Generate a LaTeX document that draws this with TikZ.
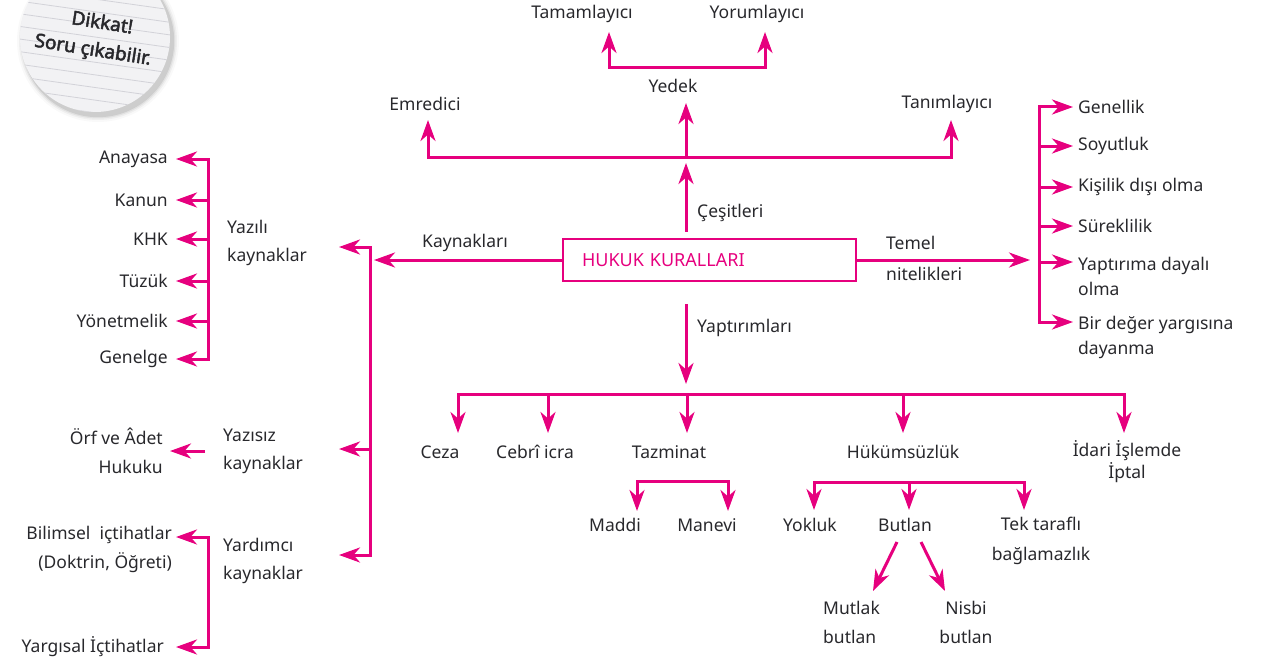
\documentclass[tikz,border=0pt]{standalone}
\usepackage{fontspec}
\setmainfont{Noto Sans}
\newfontfamily\badgefont[AutoFakeBold=2.5]{Noto Sans}
\usetikzlibrary{arrows.meta,calc}
\definecolor{mag}{RGB}{230,0,126}
\definecolor{ink}{RGB}{40,40,44}
\definecolor{badgefill}{RGB}{242,242,244}
\definecolor{badgeline}{RGB}{210,210,216}
\newcommand\fsz{\fontsize{17.5}{28}\selectfont}
\begin{document}
\begin{tikzpicture}[x=1pt,y=-1pt,
  ln/.style={draw=mag,line width=3pt},
  tipst/.tip={Stealth[length=21pt,width=15pt,inset=6.5pt]},
  arr/.style={ln,-tipst},
  arrboth/.style={ln,line join=miter,tipst-tipst},
  lbl/.style={text=ink,inner sep=0pt,font=\fsz},
  two/.style={lbl,font=\fontsize{17.5}{#1}\selectfont},
  mainbox/.style={draw=mag,line width=2.6pt,text=mag,font=\fontsize{18}{22}\selectfont,
    minimum height=42pt,inner xsep=19pt,text width=255pt,align=left},
  badgetxt/.style={text=ink,inner sep=0pt,font=\badgefont\fontsize{19}{28}\selectfont\bfseries,rotate=-9,align=center}
]
\useasboundingbox (0,0) rectangle (1263,666);
\clip (0,0) rectangle (1263,666);

% ---------- badge ----------
\foreach \r/\o in {81/0.025,79/0.04,77.5/0.06,76.2/0.09}{
  \fill[black,opacity=\o] (98,41) circle (\r);
}
\fill[badgefill] (95,37) circle (75);
\begin{scope}
  \clip (95,37) circle (75);
  \begin{scope}[shift={(95,37)},rotate=-8]
    \foreach \k in {-7,...,7}{
      \draw[badgeline,line width=0.8pt] (-100,\k*12.5) -- (100,\k*12.5);
    }
  \end{scope}
\end{scope}
\node[badgetxt] (badge) at (95,37) {\hspace*{10pt}Dikkat!\\Soru çıkabilir.};

% ---------- central box ----------
\node[mainbox] (main) at (709.5,260) {HUKUK KURALLARI};

% ---------- Çeşitleri (top) ----------
\node[lbl] (tam) at (582,14) {Tamamlayıcı};
\node[lbl] (yor) at (757,14) {Yorumlayıcı};
\node[lbl] (yed) at (673,86) {Yedek};
\node[lbl] (emr) at (425,104) {Emredici};
\node[lbl] (tan) at (947,104) {Tanımlayıcı};
\node[lbl,anchor=west] (ces) at (697,213) {Çeşitleri};

\coordinate (cL) at (428,157);
\coordinate (cM) at (686,157);
\coordinate (cR) at (951,157);
\coordinate (emrT) at (428,120);
\coordinate (yedT) at (686,103);
\coordinate (tanT) at (951,120);
\coordinate (cesT) at (686,163);
\draw[arrboth] (emrT) -- (cL) -- (cR) -- (tanT);
\draw[arr] (cM) -- (yedT);
\draw[arr,shorten <=6pt] (main.north -| cM) -- (cesT);

\coordinate (yb1) at (609,68);
\coordinate (yb2) at (765,68);
\coordinate (tamT) at (609,32);
\coordinate (yorT) at (765,32);
\draw[arrboth] (tamT) -- (yb1) -- (yb2) -- (yorT);

% ---------- Temel nitelikleri (right) ----------
\node[two=31,anchor=west,align=left] (tem) at (886,258) {Temel\\nitelikleri};
\coordinate (temT) at (1030,260);
\draw[arr] (main.east) -- (temT);

\coordinate (r1) at (1039,107);
\coordinate (r2) at (1039,146);
\coordinate (r3) at (1039,187);
\coordinate (r4) at (1039,226);
\coordinate (r5) at (1039,262);
\coordinate (r6) at (1039,322);
\coordinate (r1T) at (1073,107);
\coordinate (r2T) at (1073,146);
\coordinate (r3T) at (1073,187);
\coordinate (r4T) at (1073,226);
\coordinate (r5T) at (1073,262);
\coordinate (r6T) at (1073,322);
\draw[arrboth] (r1T) -- (r1) -- (r6) -- (r6T);
\foreach \i in {2,3,4,5}{ \draw[arr] (r\i) -- (r\i T); }

\node[lbl,anchor=west] (gen) at (1078,107) {Genellik};
\node[lbl,anchor=west] (soy) at (1078,146) {Soyutluk};
\node[lbl,anchor=west] (kis) at (1078,187) {Kişilik dışı olma};
\node[lbl,anchor=west] (sur) at (1078,226) {Süreklilik};
\node[two=25,anchor=west,align=left] (yapd) at (1078,276) {Yaptırıma dayalı\\olma};
\node[two=25,anchor=west,align=left] (bir) at (1078,337) {Bir değer yargısına\\dayanma};

% ---------- Kaynakları (left) ----------
\node[lbl] (kay) at (465,243) {Kaynakları};
\coordinate (kayT) at (374,260);
\draw[arr] (main.west) -- (kayT);

\coordinate (kv1) at (370,247);
\coordinate (kv2) at (370,449);
\coordinate (kv3) at (370,555);
\coordinate (yzT) at (339,247);
\coordinate (ysT) at (339,449);
\coordinate (ydT) at (339,555);
\draw[arrboth] (yzT) -- (kv1) -- (kv3) -- (ydT);
\draw[arr] (kv2) -- (ysT);

\node[two=28,anchor=west,align=left] (yazili) at (227,243) {Yazılı\\kaynaklar};
\node[two=28,anchor=west,align=left] (yazisiz) at (223,451) {Yazısız\\kaynaklar};
\node[two=28,anchor=west,align=left] (yardimci) at (223,561) {Yardımcı\\kaynaklar};

% written sources
\coordinate (l1) at (208,159);
\coordinate (l2) at (208,200);
\coordinate (l3) at (208,239);
\coordinate (l4) at (208,281);
\coordinate (l5) at (208,321);
\coordinate (l6) at (208,359);
\coordinate (l1T) at (176,159);
\coordinate (l2T) at (176,200);
\coordinate (l3T) at (176,239);
\coordinate (l4T) at (176,281);
\coordinate (l5T) at (176,321);
\coordinate (l6T) at (176,359);
\draw[arrboth] (l1T) -- (l1) -- (l6) -- (l6T);
\foreach \i in {2,3,4,5}{ \draw[arr] (l\i) -- (l\i T); }
\node[lbl,anchor=east] (ana) at (168,159) {Anayasa};
\node[lbl,anchor=east] (kan) at (168,200) {Kanun};
\node[lbl,anchor=east] (khk) at (168,239) {KHK};
\node[lbl,anchor=east] (tuz) at (168,281) {Tüzük};
\node[lbl,anchor=east] (yon) at (168,321) {Yönetmelik};
\node[lbl,anchor=east] (gnl) at (168,359) {Genelge};

% unwritten
\coordinate (orfT) at (170,451);
\draw[arr,shorten <=18pt] (yazisiz.west |- orfT) -- (orfT);
\node[two=29,anchor=east,align=right] (orf) at (163,451) {Örf ve Âdet\\Hukuku};

% auxiliary
\coordinate (d1) at (208,537);
\coordinate (d2) at (208,647);
\coordinate (d1T) at (176,537);
\coordinate (d2T) at (176,647);
\draw[arrboth] (d1T) -- (d1) -- (d2) -- (d2T);
\node[two=29,anchor=east,align=right] (bil) at (172,549) {Bilimsel\ \ içtihatlar\\(Doktrin, Öğreti)};
\node[lbl,anchor=east] (yarg) at (164,647) {Yargısal İçtihatlar};

% ---------- Yaptırımları (bottom) ----------
\node[lbl,anchor=west] (yapl) at (697,328) {Yaptırımları};
\coordinate (yapT) at (686,384);
\draw[arr,shorten <=22pt] (main.south -| cM) -- (yapT);

\coordinate (b1) at (458,394);
\coordinate (b2) at (548,394);
\coordinate (b3) at (687,394);
\coordinate (b4) at (903,394);
\coordinate (b5) at (1124,394);
\coordinate (b1T) at (458,433);
\coordinate (b2T) at (548,433);
\coordinate (b3T) at (687,433);
\coordinate (b4T) at (903,433);
\coordinate (b5T) at (1124,433);
\draw[arrboth] (b1T) -- (b1) -- (b5) -- (b5T);
\foreach \i in {2,3,4}{ \draw[arr] (b\i) -- (b\i T); }

\node[lbl] (ceza) at (440,452) {Ceza};
\node[lbl] (cebri) at (535,452) {Cebrî icra};
\node[lbl] (taz) at (669,452) {Tazminat};
\node[lbl] (huk) at (903,452) {Hükümsüzlük};
\node[two=22,align=center] (idari) at (1127,462) {İdari İşlemde\\İptal};

% Tazminat
\coordinate (t1) at (637,481);
\coordinate (t2) at (728,481);
\coordinate (t1T) at (637,511);
\coordinate (t2T) at (728,511);
\draw[arrboth] (t1T) -- (t1) -- (t2) -- (t2T);
\node[lbl] (maddi) at (615,525) {Maddi};
\node[lbl] (manevi) at (707,525) {Manevi};

% Hükümsüzlük
\coordinate (h1) at (814,482);
\coordinate (h2) at (909,482);
\coordinate (h3) at (1024,482);
\coordinate (h1T) at (814,510);
\coordinate (h2T) at (909,510);
\coordinate (h3T) at (1024,510);
\draw[arrboth] (h1T) -- (h1) -- (h3) -- (h3T);
\draw[arr] (h2) -- (h2T);
\node[lbl] (yok) at (810,525) {Yokluk};
\node[lbl] (but) at (905,525) {Butlan};
\node[two=30,align=center] (tek) at (1041,541) {Tek taraflı\\bağlamazlık};

\coordinate (bs1) at (897,542);
\coordinate (bs2) at (921,542);
\coordinate (mutT) at (873,591);
\coordinate (nisT) at (945,591);
\draw[arr] (bs1) -- (mutT);
\draw[arr] (bs2) -- (nisT);
\node[two=29,anchor=west,align=left] (mut) at (823,622) {Mutlak\\butlan};
\node[two=29,align=center] (nis) at (966,622) {Nisbi\\butlan};
\end{tikzpicture}
\end{document}
